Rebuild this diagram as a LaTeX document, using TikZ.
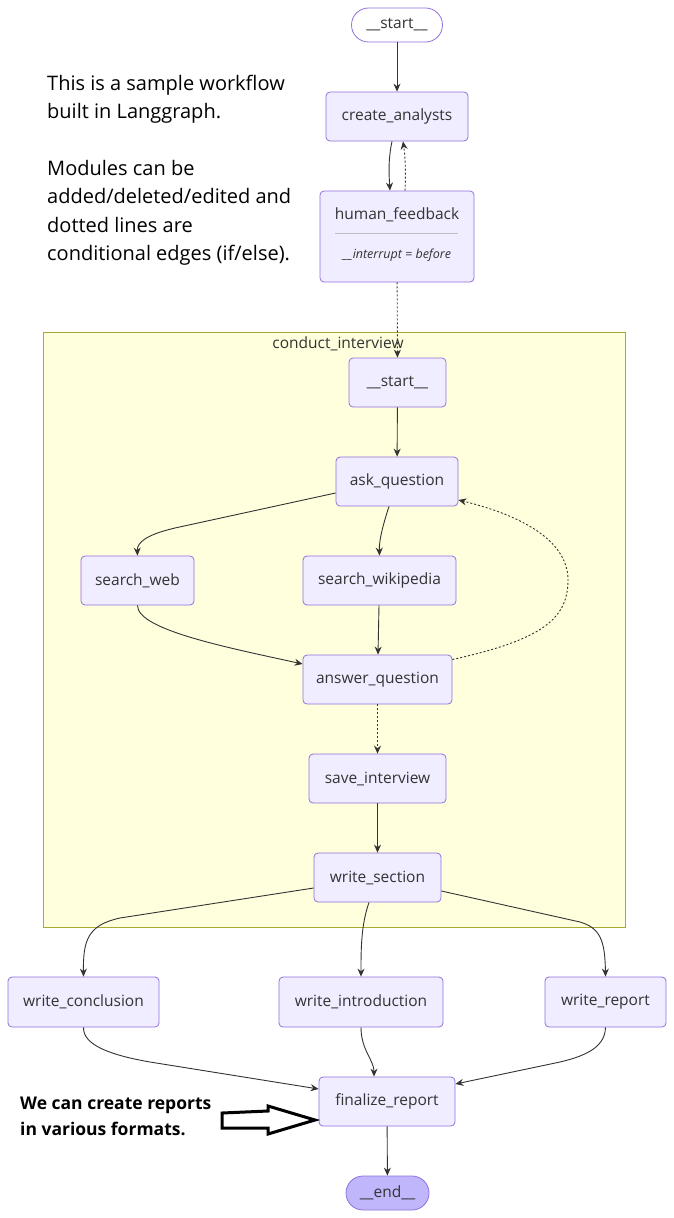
\documentclass[tikz,border=0pt]{standalone}
\usepackage{fontspec}
\setmainfont{Open Sans}
\usetikzlibrary{positioning,arrows.meta}
\definecolor{nodefill}{HTML}{EFEDFF}
\definecolor{nodeline}{HTML}{9370DB}
\definecolor{endfill}{HTML}{BFB6FC}
\definecolor{clusterfill}{HTML}{FFFFDE}
\definecolor{clusterline}{HTML}{AAAA33}
\definecolor{edgecol}{HTML}{333333}

\begin{document}
\begin{tikzpicture}[x=1pt,y=-1pt,>={Stealth[length=8pt,width=7pt]},
  box/.style={draw=nodeline,fill=nodefill,line width=0.8pt,rounded corners=4pt,
    minimum height=49pt,inner sep=0pt,font=\fontsize{15.5}{18}\selectfont,text=edgecol},
  pill/.style={box,rounded corners=17pt,minimum height=34pt},
  edge/.style={->,draw=edgecol,line width=0.9pt},
  condedge/.style={edge,dash pattern=on 2pt off 2pt}]
\useasboundingbox (0,0) rectangle (674,1218);
\fill[white] (0,0) rectangle (674,1218);

% subgraph
\node[draw=clusterline,fill=clusterfill,line width=0.8pt,minimum width=582pt,minimum height=595pt,inner sep=0pt] (interview) at (334,629.5) {};
\node[font=\fontsize{15.5}{18}\selectfont,text=edgecol] (interviewlbl) at (338,344) {conduct\_interview};

% notes
\node[anchor=north west,inner sep=0pt,align=left,font=\fontsize{20}{28.3}\selectfont] (note) at (47,75)
  {This is a sample workflow\\built in Langgraph.\\[28.3pt]Modules can be\\added/deleted/edited and\\dotted lines are\\conditional edges (if/else).};
\node[anchor=north west,inner sep=0pt,align=left,font=\fontsize{17.5}{25.5}\selectfont\bfseries] (formats) at (20,1097)
  {We can create reports\\in various formats.};

% nodes
\node[pill,fill=white,minimum width=91pt] (start) at (397,25) {\_\_start\_\_};
\node[box,minimum width=142pt] (analysts) at (397,116.5) {create\_analysts};
\node[box,minimum width=154pt,minimum height=91pt] (feedback) at (397,236.5) {};
\node[font=\fontsize{15.5}{18}\selectfont,text=edgecol] (feedbacklbl) at (397,215) {human\_feedback};
\draw[black!25,line width=0.8pt] (335,233) -- (458,233);
\node[font=\fontsize{12.5}{14}\selectfont\itshape,text=edgecol] (interruptlbl) at (397,255) {\_\_interrupt = before};
\node[box,minimum width=97pt] (substart) at (397.5,382.5) {\_\_start\_\_};
\node[box,minimum width=122pt] (ask) at (397,481.5) {ask\_question};
\node[box,minimum width=113pt] (web) at (137.5,580.5) {search\_web};
\node[box,minimum width=153pt] (wiki) at (379.5,580.5) {search\_wikipedia};
\node[box,minimum width=149pt] (answer) at (377.5,679.5) {answer\_question};
\node[box,minimum width=137pt] (save) at (377.5,778.5) {save\_interview};
\node[box,minimum width=127pt] (section) at (377.5,877.5) {write\_section};
\node[box,minimum width=151pt,minimum height=50pt] (conclusion) at (83.5,1002) {write\_conclusion};
\node[box,minimum width=164pt,minimum height=50pt] (intro) at (361,1002) {write\_introduction};
\node[box,minimum width=121pt,minimum height=50pt] (report) at (605.5,1002) {write\_report};
\node[box,minimum width=136pt] (finalize) at (387,1101.5) {finalize\_report};
\node[pill,fill=endfill,minimum width=83pt] (end) at (387.5,1193) {\_\_end\_\_};

% edges
\draw[edge] (start) -- (analysts);
\draw[edge] ([xshift=-5pt]analysts.south) .. controls (388,160) and (389,175) .. ([xshift=-7pt]feedback.north);
\draw[condedge] ([xshift=8pt]feedback.north) .. controls (406,170) and (405,155) .. ([xshift=6pt]analysts.south);
\draw[condedge] (feedback) -- (substart);
\draw[edge] (substart) -- (ask);
\draw[edge] ([yshift=-11.5pt]ask.west) -- (175,528) .. controls (145,535) and (137,543) .. (web.north);
\draw[edge] ([xshift=-8pt]ask.south) .. controls (383,525) and (379,540) .. (wiki.north);
\draw[edge] (web.south) .. controls (137,630) and (230,648) .. ([yshift=15.5pt]answer.west);
\draw[edge] (wiki) -- (answer);
\draw[condedge] ([yshift=20pt]answer.east) .. controls (540,640) and (568,620) .. (568,580)
  .. controls (568,540) and (520,515) .. ([yshift=-18.5pt]ask.east);
\draw[condedge] (answer) -- (save);
\draw[edge] (save) -- (section);
\draw[edge] ([yshift=-10.5pt]section.west) -- (120,918) .. controls (88,925) and (83,940) .. (conclusion.north);
\draw[edge] ([xshift=-8.5pt]section.south) .. controls (361,925) and (361,950) .. (intro.north);
\draw[edge] ([yshift=-13.5pt]section.east) -- (580,922) .. controls (600,928) and (605,940) .. (report.north);
\draw[edge] (conclusion.south) .. controls (83,1045) and (110,1055) .. (150,1062) -- ([yshift=12.5pt]finalize.west);
\draw[edge] (intro.south) .. controls (361,1050) and (374,1060) .. ([xshift=-13pt]finalize.north);
\draw[edge] (report.south) .. controls (605,1045) and (590,1055) .. (560,1062) -- ([yshift=17.5pt]finalize.east);
\draw[edge] (finalize) -- (end);

% block arrow
\draw[black,line width=3pt,line join=miter] (222,1113) -- (268,1111) -- (268,1106) -- (315,1120)
  -- (268,1134) -- (268,1128) -- (222,1128) -- cycle;
\end{tikzpicture}
\end{document}
